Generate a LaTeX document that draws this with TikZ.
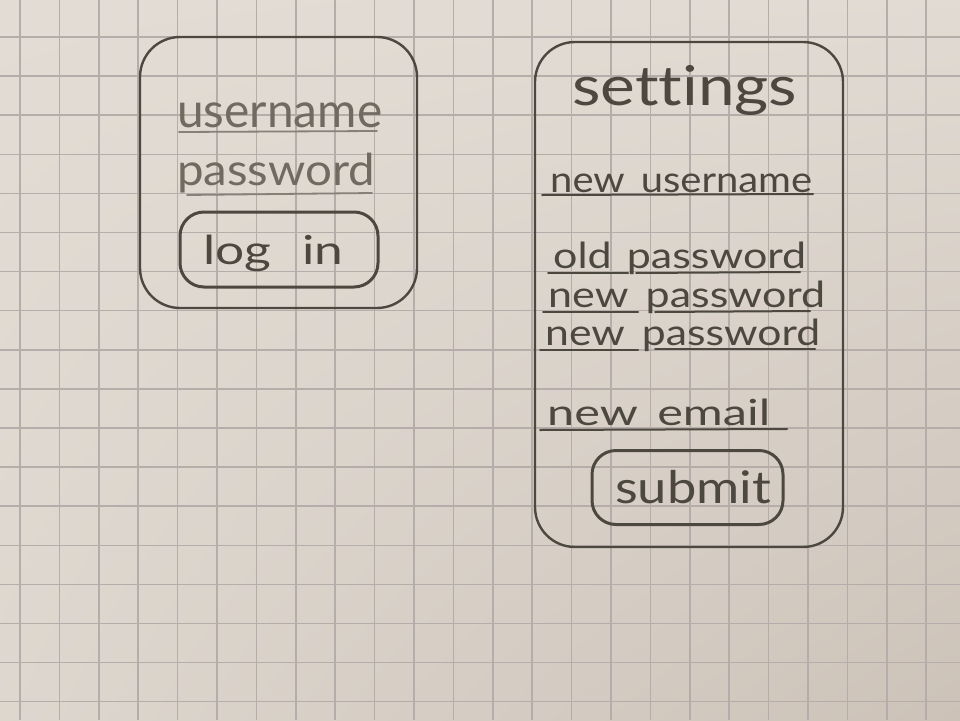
\documentclass[tikz,border=0pt]{standalone}
\usepackage{fontspec}
\setmainfont{Lato}[Ligatures=NoCommon]
\usetikzlibrary{shadings}
\definecolor{paper}{RGB}{226,220,212}
\definecolor{paperdark}{RGB}{204,194,184}
\definecolor{gridc}{RGB}{182,172,170}
\definecolor{pencil}{RGB}{76,72,64}
\definecolor{pencillight}{RGB}{112,106,96}
% stretch a word to a given width, keeping its height
\newcommand{\hw}[2]{\resizebox{#1pt}{\height}{#2}}
\newcommand{\fs}[1]{\fontsize{#1}{#1}\selectfont}
\tikzset{
  gridline/.style={draw=gridc, line width=1.5pt},
  panel/.style={draw=pencil, line width=2.4pt, rounded corners=40pt, inner sep=0pt},
  btn/.style={draw=pencil, line width=3pt, rounded corners=24pt, inner sep=0pt},
  field/.style={inner sep=0pt, anchor=base west, text=pencil, font=\fs{36}},
  softfield/.style={field, text=pencillight},
  uline/.style={draw=pencil, line width=2pt, line cap=round},
  softuline/.style={draw=pencillight!85, line width=1.8pt, line cap=round}
}
\begin{document}
\begin{tikzpicture}[x=1pt, y=-1pt]
\useasboundingbox (0,0) rectangle (960,720);
% paper
\shade[upper left=paper, upper right=paper!95!paperdark, lower left=paper!80!paperdark, lower right=paperdark] (0,0) rectangle (960,720);
% squared ruling
\foreach \k in {0,...,24} \draw[gridline] ({20+39.4*\k},0) -- ({20+39.4*\k},720);
\foreach \k in {-1,...,18} \draw[gridline] (0,{37+39.1*\k}) -- (960,{37+39.1*\k});

% ---- login panel ----
\node[panel, minimum width=277pt, minimum height=271pt] (login) at (278.5,172.5) {};
\node[softfield, font=\fs{48}] (user) at (177,127) {\hw{205}{username}};
\draw[softuline] (179,132) -- (377,131);
\node[softfield, font=\fs{44}] (pass) at (177,185) {\hw{198}{password}};
\draw[softuline] (187,195) -- (372,193);
\node[btn, minimum width=198pt, minimum height=75pt] (loginbtn) at (279,249.5) {};
\node[field, font=\fs{40}] (logintxt) at (203,264) {\hw{140}{log\hspace{0.6em}in}};

% ---- settings panel ----
\node[panel, minimum width=308pt, minimum height=505pt] (settings) at (689,294.5) {};
\node[field, font=\fs{55}] (title) at (572,105) {\hw{225}{settings}};

\node[field] (newuser) at (550,192) {\hw{262}{new\hspace{0.4em}username}};
\draw[uline] (542,195) -- (813,194);

\node[field] (oldpass) at (553,268) {\hw{253}{old\hspace{0.35em}password}};
\draw[uline] (548,273) -- (628,273);
\draw[uline] (636,273) -- (800,272);

\node[field] (newpass) at (548,307) {\hw{277}{new\hspace{0.4em}password}};
\draw[uline] (543,312) -- (638,312);
\draw[uline] (655,312) -- (810,311);

\node[field] (confpass) at (545,345) {\hw{275}{new\hspace{0.4em}password}};
\draw[uline] (540,350) -- (638,350);
\draw[uline] (655,349) -- (815,349);

\node[field] (email) at (547,425) {\hw{223}{new\hspace{0.4em}email}};
\draw[uline] (540,430) -- (787,429);

\node[btn, minimum width=191pt, minimum height=74pt] (submit) at (687.5,487.5) {};
\node[field, font=\fs{45}] (submittxt) at (615,503) {\hw{156}{submit}};
\end{tikzpicture}
\end{document}
